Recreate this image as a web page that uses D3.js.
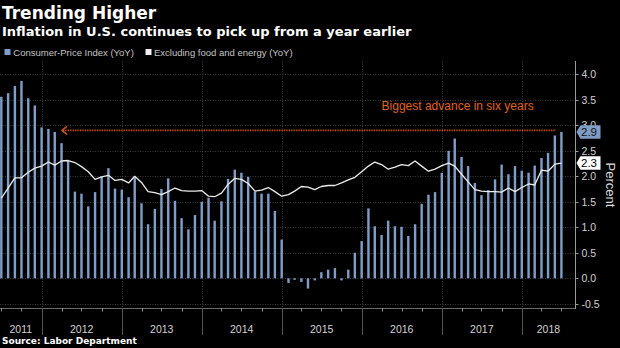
<!DOCTYPE html>
<html><head><meta charset="utf-8">
<script src="https://cdn.jsdelivr.net/npm/d3@7"></script>
<style>
html,body{margin:0;padding:0;background:#000;}
svg{display:block;}
</style></head><body>
<svg id="c" width="620" height="348"></svg>
<script>
// ---------- data ----------
const title = "Trending Higher";
const subtitle = "Inflation in U.S. continues to pick up from a year earlier";
const sourceText = "Source: Labor Department";
const seriesNames = ["Consumer-Price Index (YoY)", "Excluding food and energy (YoY)"];
const firstMonth = "2011-06-01"; // first observation month (plotted at month end)

// CPI YoY %, Jun 2011 .. Jun 2018
const cpi = [
  3.56, 3.63, 3.77, 3.87, 3.53, 3.39, 2.96,
  2.93, 2.87, 2.65, 2.30, 1.70, 1.66, 1.41, 1.69, 1.99, 2.16, 1.76, 1.74,
  1.59, 1.98, 1.47, 1.06, 1.36, 1.75, 1.96, 1.52, 1.18, 0.96, 1.24, 1.50,
  1.58, 1.13, 1.51, 1.95, 2.13, 2.07, 1.99, 1.70, 1.66, 1.66, 1.32, 0.76,
  -0.09, -0.03, -0.07, -0.20, -0.04, 0.12, 0.17, 0.20, -0.04, 0.17, 0.50, 0.73,
  1.37, 1.02, 0.85, 1.13, 1.02, 1.01, 0.83, 1.06, 1.46, 1.64, 1.69, 2.07,
  2.50, 2.74, 2.38, 2.20, 1.87, 1.63, 1.73, 1.94, 2.23, 2.04, 2.20, 2.11,
  2.07, 2.21, 2.36, 2.46, 2.80, 2.87
];
// Core CPI (ex food & energy) YoY %, Jun 2011 .. Jun 2018
const core = [
  1.57, 1.77, 1.97, 1.97, 2.08, 2.16, 2.20,
  2.28, 2.22, 2.30, 2.31, 2.27, 2.19, 2.09, 1.94, 1.99, 2.02, 1.92, 1.94,
  1.87, 2.00, 1.88, 1.70, 1.68, 1.64, 1.70, 1.77, 1.72, 1.71, 1.71, 1.72,
  1.61, 1.60, 1.67, 1.84, 1.96, 1.94, 1.86, 1.71, 1.73, 1.78, 1.70, 1.61,
  1.64, 1.71, 1.80, 1.79, 1.74, 1.80, 1.82, 1.82, 1.87, 1.93, 1.98, 2.09,
  2.20, 2.28, 2.23, 2.14, 2.18, 2.23, 2.21, 2.30, 2.20, 2.10, 2.14, 2.21,
  2.26, 2.20, 2.04, 1.89, 1.74, 1.71, 1.70, 1.70, 1.69, 1.77, 1.70, 1.78,
  1.85, 1.83, 2.12, 2.10, 2.24, 2.26
];
const yTicks = [-0.5, 0.0, 0.5, 1.0, 1.5, 2.0, 2.5, 3.0, 3.5, 4.0];
const yearLabels = [2011, 2012, 2013, 2014, 2015, 2016, 2017, 2018];
const xDomain = ["2011-06-25", "2018-09-01"];
const yDomain = [-0.582, 4.261];
const annotationText = "Biggest advance in six years";
const annotationValue = 2.9;
const annotationSpan = ["2012-04-03", "2018-06-05"];
const annotationTextDate = "2016-04-01";
const yAxisTitle = "Percent";

// ---------- layout ----------
const W = 620, H = 348;
const plot = {left: 0, right: 575, top: 61, bottom: 308};
const C = {
  bar: "#7f9dc6", line: "#ececec", grid: "#3a3a3a", axis: "#8a8a8a",
  text: "#d2d2d2", orange: "#e0621e", orangeLine: "#c9531a"
};
const parse = d3.timeParse("%Y-%m-%d");
const start = parse(firstMonth);
const dates = cpi.map((_, i) => d3.timeMonth.offset(start, i + 1));
const x = d3.scaleTime().domain(xDomain.map(parse)).range([plot.left, plot.right]);
const y = d3.scaleLinear().domain(yDomain).range([plot.bottom, plot.top]);

const svg = d3.select("#c");
svg.append("rect").attr("width", W).attr("height", H).attr("fill", "#000");

const sansB = "'DejaVu Sans', sans-serif";
const sans = "'Liberation Sans', Arial, sans-serif";

// titles
svg.append("text").attr("x", 2).attr("y", 18.7).text(title)
  .attr("font-family", sansB).attr("font-weight", "bold").attr("font-size", 17).attr("fill", "#fff");
svg.append("text").attr("x", 2).attr("y", 36).text(subtitle)
  .attr("font-family", sansB).attr("font-weight", "bold").attr("font-size", 13).attr("fill", "#fff");

// legend
const leg = svg.append("g").attr("font-family", sans).attr("font-size", 9.5).attr("fill", "#c4c4c4");
leg.append("rect").attr("x", 4.5).attr("y", 49).attr("width", 6).attr("height", 6).attr("fill", C.bar);
leg.append("text").attr("x", 13.3).attr("y", 55.5).text(seriesNames[0]);
leg.append("rect").attr("x", 145.5).attr("y", 49).attr("width", 6).attr("height", 6).attr("fill", "#f0f0f0");
leg.append("text").attr("x", 154).attr("y", 55.5).text(seriesNames[1]);

// gridlines
const grid = svg.append("g").attr("stroke", C.grid).attr("stroke-width", 1).attr("stroke-dasharray", "1,1.5");
grid.selectAll("line.h").data(yTicks).join("line")
  .attr("x1", plot.left).attr("x2", plot.right)
  .attr("y1", d => Math.round(y(d)) + 0.5).attr("y2", d => Math.round(y(d)) + 0.5);
const yearStarts = yearLabels.slice(1).map(yr => new Date(yr, 0, 1));
grid.selectAll("line.v").data(yearStarts).join("line")
  .attr("x1", d => Math.round(x(d)) + 0.5).attr("x2", d => Math.round(x(d)) + 0.5)
  .attr("y1", plot.top).attr("y2", plot.bottom);

// bars
const bw = 2.4;
svg.append("g").selectAll("rect").data(cpi).join("rect")
  .attr("x", (d, i) => x(dates[i]) - bw / 2)
  .attr("width", bw)
  .attr("y", d => Math.min(y(d), y(0)))
  .attr("height", d => Math.abs(y(d) - y(0)))
  .attr("fill", C.bar);

// core line
svg.append("path").datum(core)
  .attr("d", d3.line().x((d, i) => x(dates[i])).y(d => y(d)))
  .attr("fill", "none").attr("stroke", C.line).attr("stroke-width", 1.3).attr("stroke-linejoin", "round");

// annotation
const ay = y(annotationValue);
const ax0 = x(parse(annotationSpan[0])), ax1 = x(parse(annotationSpan[1]));
svg.append("line").attr("x1", ax0 + 1).attr("x2", ax1).attr("y1", ay).attr("y2", ay)
  .attr("stroke", C.orangeLine).attr("stroke-width", 1.6).attr("stroke-dasharray", "1,0.7");
svg.append("path").attr("d", `M${ax0 + 5},${ay - 4} L${ax0},${ay} L${ax0 + 5},${ay + 4}`)
  .attr("fill", "none").attr("stroke", C.orangeLine).attr("stroke-width", 1.6);
svg.append("text").attr("x", x(parse(annotationTextDate))).attr("y", ay - 20.5)
  .text(annotationText).attr("font-family", sans).attr("font-size", 12).attr("fill", C.orange);

// x axis
const xa = svg.append("g");
xa.append("line").attr("x1", plot.left).attr("x2", plot.right).attr("y1", plot.bottom + 0.5).attr("y2", plot.bottom + 0.5)
  .attr("stroke", "#6a6a6a");
const quarters = d3.timeMonth.every(3).range(x.domain()[0], x.domain()[1]).filter(d => d.getMonth() !== 0);
xa.selectAll("line.q").data(quarters).join("line")
  .attr("x1", d => Math.round(x(d)) + 0.5).attr("x2", d => Math.round(x(d)) + 0.5)
  .attr("y1", plot.bottom).attr("y2", plot.bottom + 3.5).attr("stroke", "#8a8a8a");
xa.selectAll("line.yr").data(yearStarts).join("line")
  .attr("x1", d => Math.round(x(d)) + 0.5).attr("x2", d => Math.round(x(d)) + 0.5)
  .attr("y1", plot.bottom).attr("y2", 335).attr("stroke", "#555");
const [d0, d1] = x.domain();
xa.selectAll("text").data(yearLabels).join("text")
  .attr("x", yr => {
    const a = Math.max(+new Date(yr, 0, 1), +d0), b = Math.min(+new Date(yr + 1, 0, 1), +d1);
    return (x(new Date(a)) + x(new Date(b))) / 2;
  })
  .attr("y", 333).attr("text-anchor", "middle")
  .attr("font-family", sans).attr("font-size", 10.5).attr("fill", C.text)
  .text(d => d);

// y axis (right)
const ya = svg.append("g");
ya.append("line").attr("x1", plot.right + 0.5).attr("x2", plot.right + 0.5).attr("y1", plot.top).attr("y2", plot.bottom + 1)
  .attr("stroke", "#9a9a9a");
ya.selectAll("line.t").data(yTicks).join("line")
  .attr("x1", plot.right).attr("x2", plot.right + 3.5)
  .attr("y1", d => Math.round(y(d)) + 0.5).attr("y2", d => Math.round(y(d)) + 0.5).attr("stroke", "#9a9a9a");
ya.selectAll("text").data(yTicks).join("text")
  .attr("x", plot.right + 6.5).attr("y", d => y(d)).attr("dy", "0.36em")
  .attr("font-family", sans).attr("font-size", 10.5).attr("fill", C.text)
  .text(d => d3.format(".1f")(d).replace("\u2212", "-"));

// value tags
function tag(v, fill, txtFill) {
  const cy = y(v);
  svg.append("path")
    .attr("d", `M${plot.right + 1.5},${cy} L${plot.right + 5.5},${cy - 6.7} L${plot.right + 25.5},${cy - 6.7} L${plot.right + 25.5},${cy + 6.7} L${plot.right + 5.5},${cy + 6.7} Z`)
    .attr("fill", fill);
  svg.append("text").attr("x", plot.right + 14).attr("y", cy).attr("dy", "0.36em").attr("text-anchor", "middle")
    .attr("font-family", sans).attr("font-size", 11.5).attr("fill", txtFill)
    .text(d3.format(".1f")(v));
}
tag(cpi[cpi.length - 1], C.bar, "#111");
tag(core[core.length - 1], "#fff", "#000");

// y axis title
svg.append("text").attr("transform", `translate(606,185) rotate(90)`).attr("text-anchor", "middle")
  .attr("font-family", sans).attr("font-size", 13).attr("fill", "#dcdcdc").text(yAxisTitle);

// source
svg.append("text").attr("x", 2).attr("y", 344).text(sourceText)
  .attr("font-family", sansB).attr("font-weight", "bold").attr("font-size", 9).attr("fill", "#fff");
</script>
</body></html>
